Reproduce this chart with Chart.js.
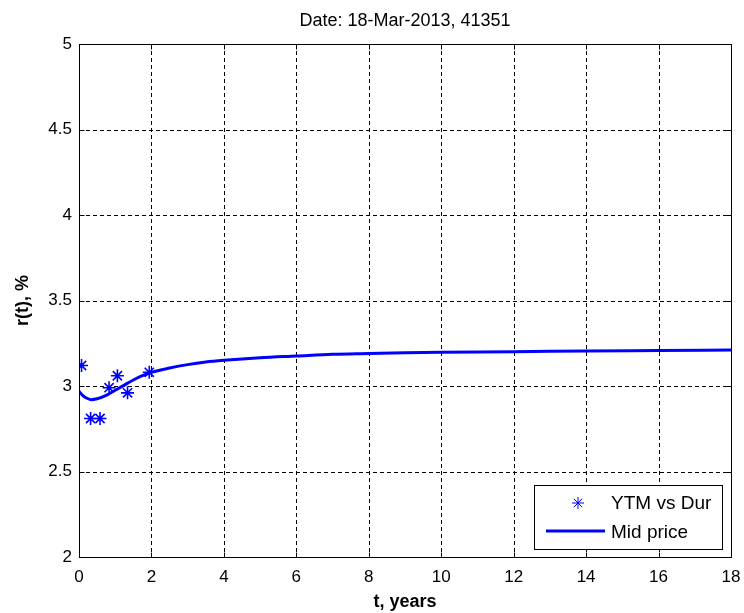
<!DOCTYPE html>
<html>
<head>
<meta charset="utf-8">
<script src="https://cdn.jsdelivr.net/npm/chart.js@4/dist/chart.umd.min.js"></script>
<style>
  html, body { margin: 0; padding: 0; background: #fff; }
  #wrap { width: 744px; height: 613px; }
</style>
</head>
<body>
<div id="wrap"><canvas id="myChart" width="744" height="613"></canvas></div>
<script>
// bond yields vs duration
const ytmDur = [0.07, 0.32, 0.58, 0.83, 1.06, 1.34, 1.94];
const ytmRate = [3.12, 2.81, 2.81, 2.99, 3.06, 2.96, 3.08];

// fitted curve (mid price)
const curveT = [0, 0.1, 0.2, 0.33, 0.5, 0.75, 1, 1.25, 1.5, 1.75, 2, 2.5, 3, 3.5, 4, 5, 6, 7, 8, 9, 10, 12, 14, 16, 18];
const curveRate = [2.97, 2.945, 2.93, 2.92, 2.925, 2.945, 2.975, 3.005, 3.035, 3.06, 3.08, 3.105, 3.125, 3.14, 3.15, 3.165, 3.175, 3.185, 3.19, 3.195, 3.198, 3.2, 3.205, 3.207, 3.21];

const legendLabels = ['YTM vs Dur', 'Mid price'];
const titleText = 'Date: 18-Mar-2013, 41351';
const xTitle = 't, years';
const yTitle = 'r(t), %';

const FONT = '"Liberation Sans", Arial, sans-serif';
const blue = '#0000ff';

// matlab style: dashed grid, box, inward ticks, title, legend
const matlabAxes = {
    id: 'matlabAxes',
    beforeDatasetsDraw(chart) {
        const {ctx, chartArea: a, scales: {x, y}} = chart;
        ctx.save();
        ctx.strokeStyle = '#000';
        ctx.lineWidth = 1;
        ctx.setLineDash([4, 3]);
        x.ticks.forEach(t => {
            const px = Math.round(x.getPixelForValue(t.value)) + 0.5;
            ctx.beginPath(); ctx.moveTo(px, a.top); ctx.lineTo(px, a.bottom); ctx.stroke();
        });
        y.ticks.forEach(t => {
            const py = Math.round(y.getPixelForValue(t.value)) + 0.5;
            ctx.beginPath(); ctx.moveTo(a.left, py); ctx.lineTo(a.right, py); ctx.stroke();
        });
        ctx.restore();
    },
    afterDraw(chart) {
        const {ctx, chartArea: a, scales: {x, y}} = chart;
        ctx.save();
        ctx.strokeStyle = '#000';
        ctx.lineWidth = 1;
        ctx.setLineDash([]);
        const L = Math.round(a.left) + 0.5, R = Math.round(a.right) + 0.5;
        const T = Math.round(a.top) + 0.5, B = Math.round(a.bottom) + 0.5;
        ctx.strokeRect(L, T, R - L, B - T);
        const tl = 5;
        x.ticks.forEach(t => {
            const px = Math.round(x.getPixelForValue(t.value)) + 0.5;
            ctx.beginPath();
            ctx.moveTo(px, B); ctx.lineTo(px, B - tl);
            ctx.moveTo(px, T); ctx.lineTo(px, T + tl);
            ctx.stroke();
        });
        y.ticks.forEach(t => {
            const py = Math.round(y.getPixelForValue(t.value)) + 0.5;
            ctx.beginPath();
            ctx.moveTo(L, py); ctx.lineTo(L + tl, py);
            ctx.moveTo(R, py); ctx.lineTo(R - tl, py);
            ctx.stroke();
        });

        // title
        ctx.fillStyle = '#000';
        ctx.font = '18px ' + FONT;
        ctx.textAlign = 'center';
        ctx.textBaseline = 'middle';
        ctx.fillText(titleText, (a.left + a.right) / 2, 21);

        // legend box
        const bx = 534.5, by = 485.5, bw = 188, bh = 64;
        ctx.fillStyle = '#fff';
        ctx.fillRect(bx, by, bw, bh);
        ctx.strokeRect(bx, by, bw, bh);

        ctx.fillStyle = '#000';
        ctx.textAlign = 'left';
        ctx.font = '19px ' + FONT;
        ctx.fillText(legendLabels[0], 611, 504);
        ctx.fillText(legendLabels[1], 611, 533);

        ctx.strokeStyle = blue;
        Chart.helpers.drawPoint(ctx, {pointStyle: 'star', radius: 6, borderWidth: 1.5}, 578, 503);
        ctx.lineWidth = 3;
        ctx.beginPath(); ctx.moveTo(546, 531); ctx.lineTo(605, 531); ctx.stroke();
        ctx.restore();
    }
};

const ctx = document.getElementById('myChart').getContext('2d');
const myChart = new Chart(ctx, {
    type: 'scatter',
    data: {
        datasets: [{
            label: legendLabels[1],
            data: curveT.map((t, i) => ({x: t, y: curveRate[i]})),
            showLine: true,
            borderColor: blue,
            borderWidth: 3,
            pointRadius: 0,
            cubicInterpolationMode: 'monotone',
            fill: false,
            order: 2
        }, {
            label: legendLabels[0],
            data: ytmDur.map((t, i) => ({x: t, y: ytmRate[i]})),
            showLine: false,
            pointStyle: 'star',
            pointRadius: 6.5,
            borderColor: blue,
            backgroundColor: blue,
            borderWidth: 1.6,
            order: 1
        }]
    },
    options: {
        responsive: false,
        animation: false,
        events: [],
        layout: { padding: { top: 44, right: 13, left: 0, bottom: 0 } },
        plugins: {
            legend: { display: false },
            tooltip: { enabled: false },
            title: { display: false }
        },
        scales: {
            x: {
                type: 'linear',
                min: 0, max: 18,
                ticks: { stepSize: 2, color: '#000', font: { family: FONT, size: 17 }, padding: 2 },
                grid: { display: false },
                border: { display: false },
                title: { display: true, text: xTitle, color: '#000', font: { family: FONT, size: 18, weight: 'bold' }, padding: { top: 0, bottom: 0 } },
                afterFit(s) { s.height = 56; }
            },
            y: {
                type: 'linear',
                min: 2, max: 5,
                ticks: { stepSize: 0.5, color: '#000', font: { family: FONT, size: 17 }, padding: 0, callback: v => String(v) },
                grid: { display: false, tickLength: 7 },
                border: { display: false },
                title: { display: true, text: yTitle, color: '#000', font: { family: FONT, size: 18, weight: 'bold' }, padding: { top: 12, bottom: 0 } },
                afterFit(s) { s.width = 79; }
            }
        }
    },
    plugins: [matlabAxes]
});
</script>
</body>
</html>
